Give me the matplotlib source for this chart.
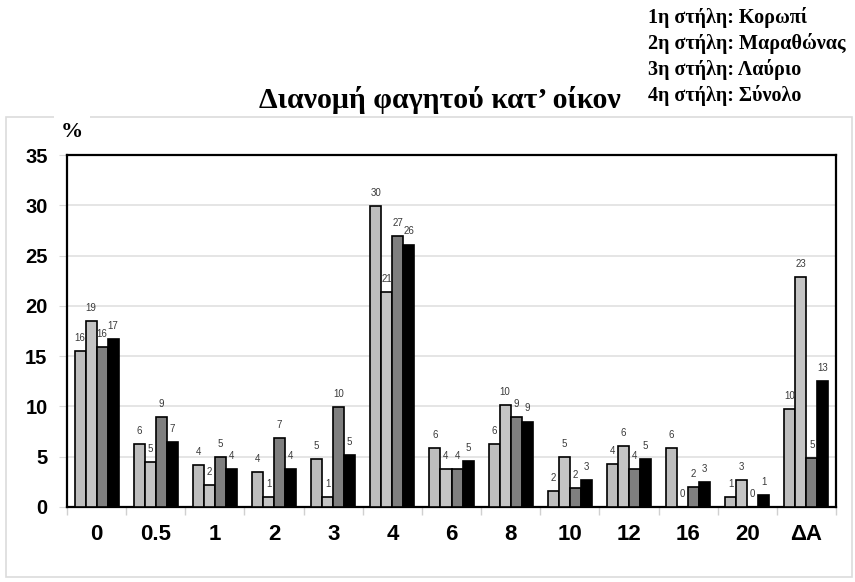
import numpy as np
import matplotlib
matplotlib.use("Agg")
import matplotlib.pyplot as plt
from matplotlib.patches import Rectangle

categories = ["0", "0.5", "1", "2", "3", "4", "6", "8", "10", "12", "16", "20", "ΔΑ"]
koropi    = [15.5, 6.3, 4.2, 3.5, 4.8, 29.9, 5.9, 6.3, 1.6, 4.3, 5.9, 1.0, 9.7]
marathon  = [18.5, 4.5, 2.2, 1.0, 1.0, 21.4, 3.8, 10.1, 5.0, 6.1, 0.0, 2.7, 22.9]
lavrio    = [15.9, 8.9, 5.0, 6.9, 9.9, 26.9, 3.8, 8.9, 1.9, 3.8, 2.0, 0.0, 4.9]
synolo    = [16.7, 6.5, 3.8, 3.8, 5.2, 26.1, 4.6, 8.5, 2.7, 4.8, 2.5, 1.2, 12.5]
series = [koropi, marathon, lavrio, synolo]
colors = ["#bdbdbd", "#c4c4c4", "#7f7f7f", "#000000"]

legend_lines = ["1η στήλη: Κορωπί", "2η στήλη: Μαραθώνας", "3η στήλη: Λαύριο", "4η στήλη: Σύνολο"]
title = "Διανομή φαγητού κατ’ οίκον"

serif = ["Liberation Serif", "DejaVu Serif"]
sans = ["Liberation Sans", "DejaVu Sans"]

fig = plt.figure(figsize=(8.55, 5.82), dpi=100)
ax = fig.add_axes([67/855, 1-507/582, (836-67)/855, (507-155)/582])

# outer light frame
fig.patches.append(Rectangle((6/855, 1-577/582), 846/855, 460/582,
                             transform=fig.transFigure, fill=False,
                             edgecolor="#dcdcdc", lw=1.2))

x = np.arange(len(categories))
w = 0.186
for k, s in enumerate(series):
    pos = x + (k-1.5)*w
    ax.bar(pos, s, width=w, color=colors[k], edgecolor="black", linewidth=1.2, zorder=3)
    for xi, v in zip(pos, s):
        ax.text(xi, v + 0.8, str(int(v + 0.5)), ha="center", va="bottom",
                fontsize=7, color="#3a3a3a", family=sans, zorder=4)

ax.set_xlim(-0.5, len(categories)-0.5)
ax.set_ylim(0, 35)
ax.set_yticks(np.arange(0, 36, 5))
ax.yaxis.grid(True, color="#e0e0e0", lw=1.2, zorder=0)
ax.set_axisbelow(True)
for sp in ax.spines.values():
    sp.set_linewidth(1.6)
    sp.set_color("black")

ax.tick_params(axis="y", length=6, color="#d8d8d8", pad=8)
for t in ax.get_yticklabels():
    t.set_fontsize(14.5)
    t.set_fontweight("bold")
    t.set_family(sans)

ax.set_xticks(np.arange(-0.5, len(categories)), minor=False)
ax.set_xticklabels([])
ax.set_xticks(x, minor=True)
ax.set_xticklabels(categories, minor=True, fontsize=16, fontweight="bold", family=sans)
ax.tick_params(axis="x", which="major", length=6, color="#d0d0d0", width=1)
ax.tick_params(axis="x", which="minor", length=0, pad=12)

fig.text(61/855, 1-132/582, "%", fontsize=16, fontweight="bold",
         family=serif, ha="left", va="center",
         bbox=dict(facecolor="white", edgecolor="none", pad=5))

fig.text(440/855, 1-100/582, title, fontsize=21.5, fontweight="bold",
         family=serif, ha="center", va="center")

for i, line in enumerate(legend_lines):
    fig.text(648/855, 1-(18+26*i)/582, line, fontsize=14.5, fontweight="bold",
             family=serif, ha="left", va="center")

fig.savefig("out.png", dpi=100)
